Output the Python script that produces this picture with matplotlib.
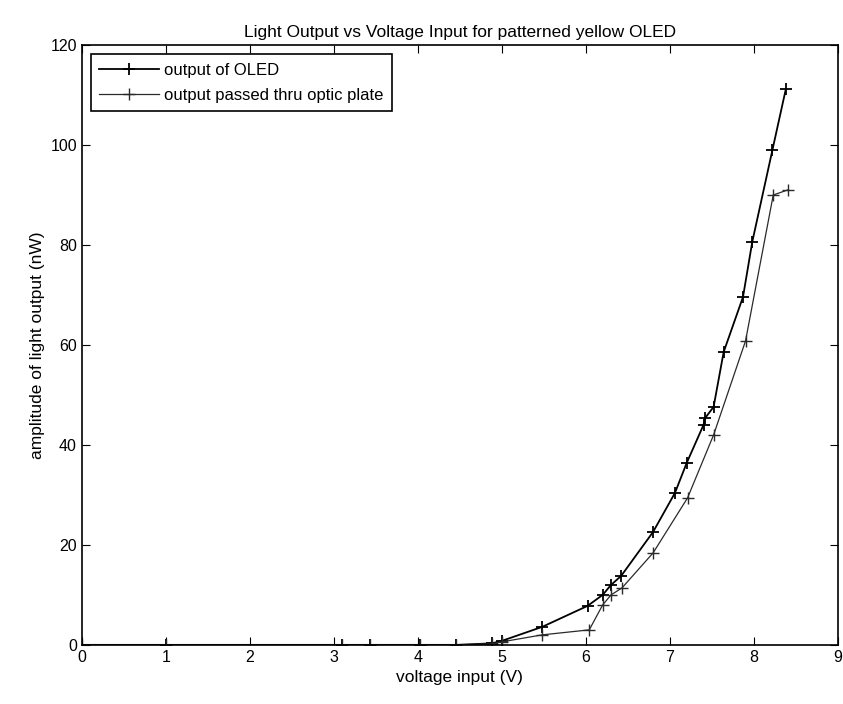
import matplotlib
matplotlib.use("Agg")
import matplotlib.pyplot as plt

plt.rcParams['font.family'] = ['Liberation Sans', 'DejaVu Sans']

# measured light output of the OLED (nW) vs drive voltage (V)
v_oled = [0.0, 1.0, 3.1, 3.43, 4.03, 4.46, 4.88, 5.0, 5.48, 6.02,
          6.2, 6.3, 6.42, 6.8, 7.06, 7.2, 7.4, 7.42, 7.52, 7.64, 7.87, 7.98,
          8.22, 8.38]
p_oled = [0.0, 0.0, 0.0, 0.0, 0.0, 0.0, 0.3, 0.8, 3.6, 7.8,
          10.0, 12.0, 13.8, 22.6, 30.4, 36.4, 44.0, 45.4, 47.6, 58.6, 69.6, 80.6,
          99.0, 111.2]

# same device measured through the optic plate
v_plate = [0.0, 1.0, 3.1, 3.43, 4.03, 4.46, 4.88, 5.0, 5.48, 6.04,
           6.2, 6.3, 6.43, 6.8, 7.21, 7.52, 7.9, 8.23, 8.4]
p_plate = [0.0, 0.0, 0.0, 0.0, 0.0, 0.0, 0.2, 0.6, 2.0, 3.0,
           8.0, 10.0, 11.4, 18.4, 29.4, 42.0, 60.8, 90.0, 91.0]

fig = plt.figure(figsize=(8.43, 7.04), dpi=100)
ax = fig.add_axes([0.097, 0.084, 0.897, 0.852])

ax.plot(v_oled, p_oled, color="black", lw=1.3, marker="+", ms=9, mew=1.3,
        label="output of OLED")
ax.plot(v_plate, p_plate, color="#2a2a2a", lw=0.9, marker="+", ms=9, mew=1.0,
        label="output passed thru optic plate")

ax.set_xlim(0, 9)
ax.set_ylim(0, 120)
ax.set_xticks(range(0, 10))
ax.set_yticks(range(0, 121, 20))
ax.tick_params(direction="in", top=True, right=True, length=6, labelsize=11.5)
for s in ax.spines.values():
    s.set_linewidth(1.2)

ax.set_xlabel("voltage input (V)", fontsize=12.5)
ax.set_ylabel("amplitude of light output (nW)", fontsize=12.5)
ax.set_title("Light Output vs Voltage Input for patterned yellow OLED", fontsize=12.5)

leg = ax.legend(loc="upper left", fontsize=12, fancybox=False, framealpha=1,
                edgecolor="black", borderaxespad=0.55, handlelength=3.6,
                labelspacing=0.6, handletextpad=0.3, borderpad=0.5)
leg.get_frame().set_linewidth(1.2)

fig.savefig("out.png", dpi=100)
